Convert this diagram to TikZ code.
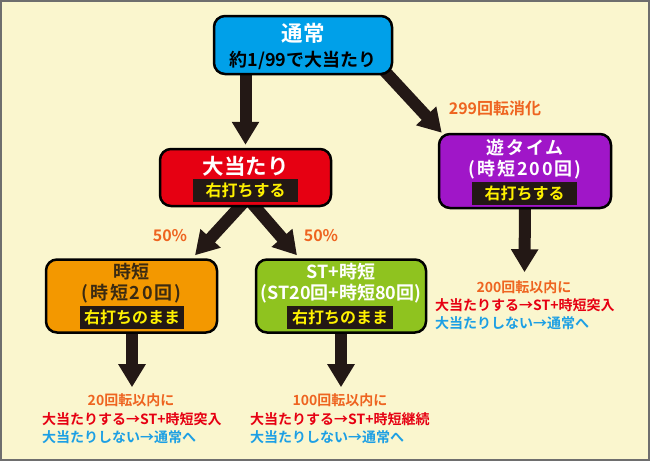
\documentclass[tikz,border=0pt]{standalone}
\usepackage{fontspec}
\setmainfont{Noto Sans CJK JP}[BoldFont={Noto Sans CJK JP Bold}]
\usetikzlibrary{arrows.meta,calc}
\definecolor{bgc}{HTML}{FAF6CE}
\definecolor{framec}{HTML}{6E6E6E}
\definecolor{bluec}{HTML}{00A0E9}
\definecolor{redc}{HTML}{E60012}
\definecolor{purplec}{HTML}{A016C8}
\definecolor{orangec}{HTML}{F39800}
\definecolor{greenc}{HTML}{8FC31F}
\definecolor{bandc}{HTML}{231815}
\definecolor{yellowc}{HTML}{FFF100}
\definecolor{lblc}{HTML}{EE6420}
\definecolor{redtxt}{HTML}{E60012}
\definecolor{bluetxt}{HTML}{1C9FE4}
\definecolor{darktxt}{HTML}{3A2A12}
\pgfdeclarelayer{back}
\pgfdeclarelayer{arr}
\pgfsetlayers{back,arr,main}
\begin{document}
\begin{tikzpicture}[x=1pt,y=-1pt,
  box/.style={draw=black, line width=2.5pt, rounded corners=11pt, inner sep=0pt},
  bandbox/.style={fill=bandc, text=yellowc, inner sep=0pt, minimum height=23pt,
    font=\bfseries\fontsize{16}{16}\selectfont},
  bigttl/.style={inner sep=0pt, text=white, font=\bfseries\fontsize{21.5}{22}\selectfont},
  subttl/.style={inner sep=0pt, text=black, font=\bfseries\fontsize{18}{18}\selectfont},
  smttl/.style={inner sep=0pt, font=\bfseries\fontsize{18}{18}\selectfont},
  widettl/.style={inner sep=0pt, font=\bfseries\fontsize{18}{18}\selectfont\addfontfeature{LetterSpace=10}},
  blk/.style={draw=bandc, line width=12pt, -{Triangle[width=26pt,length=23pt]}},
  lbl/.style={inner sep=0pt, text=lblc, font=\bfseries\fontsize{16}{16}\selectfont},
  note/.style={inner sep=0pt, font=\bfseries\fontsize{14}{14}\selectfont},
]
\useasboundingbox (0,0) rectangle (650,461);
\begin{pgfonlayer}{back}
  \fill[bgc] (0,0) rectangle (650,461);
  \draw[framec, line width=2pt] (1,1) rectangle (649,460);
\end{pgfonlayer}

% boxes
\node[box, fill=bluec, minimum width=178pt, minimum height=58pt] (tsujo) at (303,45) {};
\node[box, fill=redc, minimum width=171pt, minimum height=57pt] (atari) at (245.5,177.5) {};
\node[box, fill=purplec, minimum width=172pt, minimum height=74pt] (yu) at (525,171) {};
\node[box, fill=orangec, minimum width=171pt, minimum height=73pt] (jitan) at (131.5,296) {};
\node[box, fill=greenc, minimum width=170pt, minimum height=73pt] (st) at (341,296) {};

% box texts
\node[bigttl] (tsujoT) at (303,33) {通常};
\node[subttl] (tsujoS) at (303,60) {約1/99で大当たり};

\node[bigttl] (atariT) at (245.5,166) {大当たり};
\node[bandbox, minimum width=105pt] (atariB) at (245.5,190.5) {右打ちする};

\node[widettl, text=white] (yuT) at (525,148) {遊タイム};
\node[widettl, text=white] (yuS) at (525,170) {(時短200回)};
\node[bandbox, minimum width=105pt] (yuB) at (524.5,193) {右打ちする};

\node[smttl, text=darktxt] (jitanT) at (131.5,272) {時短};
\node[widettl, text=darktxt] (jitanS) at (131.5,293.5) {(時短20回)};
\node[bandbox, minimum width=104pt] (jitanB) at (132,317) {右打ちのまま};

\node[smttl, text=white] (stT) at (341,272) {ST+時短};
\node[smttl, text=white] (stS) at (341,293.5) {(ST20回+時短80回)};
\node[bandbox, minimum width=106pt] (stB) at (340,317) {右打ちのまま};

% labels
\node[lbl] (l299) at (495,108) {299回転消化};
\node[lbl] (p50a) at (170,236) {50\%};
\node[lbl] (p50b) at (321,236) {50\%};

% bottom notes
\node[note, text=lblc] (jn1) at (131,400) {20回転以内に};
\node[note, text=redtxt, anchor=west] (jn2) at (42,419) {大当たりする→ST+時短突入};
\node[note, text=bluetxt, anchor=west] (jn3) at (42,437) {大当たりしない→通常へ};

\node[note, text=lblc] (sn1) at (340,400) {100回転以内に};
\node[note, text=redtxt, anchor=west] (sn2) at (250,419) {大当たりする→ST+時短継続};
\node[note, text=bluetxt, anchor=west] (sn3) at (250,437) {大当たりしない→通常へ};

\node[note, text=lblc] (yn1) at (524,287) {200回転以内に};
\node[note, text=redtxt, anchor=west] (yn2) at (435,305) {大当たりする→ST+時短突入};
\node[note, text=bluetxt, anchor=west] (yn3) at (435,323) {大当たりしない→通常へ};

% arrows
\begin{pgfonlayer}{arr}
  \draw[blk] ($(tsujo.south -| atari.north)+(0,-8)$) -- ($(atari.north)+(0,-3)$);
  \draw[blk] ($(tsujo.south east)+(-14,-10)$) -- ($(yu.north west)+(4,0)$);
  \draw[blk] ($(atari.south)+(1,-8)$) -- ($(jitan.north)+(63.5,-3)$);
  \draw[blk] ($(atari.south)+(3,-8)$) -- ($(st.north)+(-44,-3)$);
  \draw[blk] ($(jitan.south)+(0.5,-8)$) -- ($(jn1.north)+(1,-6)$);
  \draw[blk] ($(st.south)+(0,-8)$) -- ($(sn1.north)+(1,-6)$);
  \draw[blk] ($(yu.south)+(0,-8)$) -- ($(yn1.north)+(0.5,-8)$);
\end{pgfonlayer}
\end{tikzpicture}
\end{document}
